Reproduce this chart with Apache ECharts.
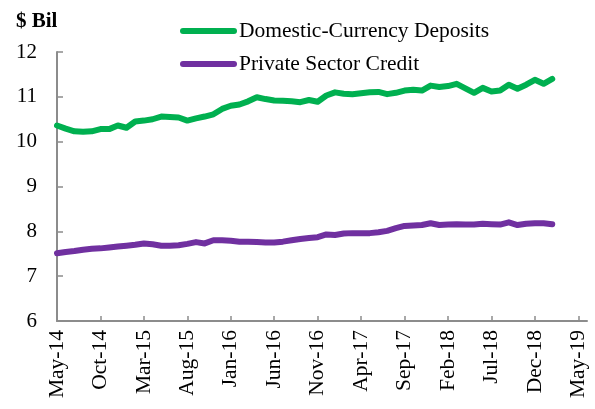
<!DOCTYPE html>
<html>
<head>
<meta charset="utf-8">
<script src="https://cdn.jsdelivr.net/npm/echarts@6/dist/echarts.min.js"></script>
<style>
  html, body { margin: 0; padding: 0; background: #fff; }
  #chart { width: 595px; height: 409px; }
</style>
</head>
<body>
<div id="chart"></div>
<script>
// Monthly axis: May-14 through Jun-19
const monthNames = ['Jan','Feb','Mar','Apr','May','Jun','Jul','Aug','Sep','Oct','Nov','Dec'];
const startYear = 2014, startMonth = 4, monthCount = 62;
const months = [];
for (let i = 0; i < monthCount; i++) {
  const m = (startMonth + i) % 12;
  const y = startYear + Math.floor((startMonth + i) / 12);
  months.push(monthNames[m] + '-' + String(y).slice(2));
}

// $ billions, May-14 onward
const depositsDomestic = [
  10.36, 10.29, 10.23, 10.22, 10.23, 10.28, 10.28, 10.36, 10.31, 10.45,
  10.47, 10.50, 10.56, 10.55, 10.54, 10.47, 10.52, 10.56, 10.61, 10.73,
  10.80, 10.83, 10.90, 10.99, 10.95, 10.92, 10.91, 10.90, 10.88, 10.93,
  10.89, 11.03, 11.10, 11.07, 11.06, 11.08, 11.10, 11.11, 11.06, 11.09,
  11.14, 11.16, 11.14, 11.25, 11.22, 11.24, 11.29, 11.19, 11.09, 11.20,
  11.12, 11.14, 11.27, 11.18, 11.27, 11.38, 11.29, 11.40
];
const creditPrivate = [
  7.51, 7.54, 7.56, 7.59, 7.61, 7.62, 7.64, 7.66, 7.68, 7.70,
  7.73, 7.71, 7.68, 7.68, 7.69, 7.72, 7.76, 7.73, 7.80, 7.80,
  7.79, 7.77, 7.77, 7.76, 7.75, 7.75, 7.77, 7.80, 7.83, 7.85,
  7.87, 7.93, 7.92, 7.95, 7.96, 7.96, 7.96, 7.98, 8.01, 8.07,
  8.12, 8.13, 8.14, 8.18, 8.14, 8.15, 8.16, 8.15, 8.15, 8.17,
  8.16, 8.15, 8.20, 8.14, 8.17, 8.18, 8.18, 8.16
];

const FONT = '"Liberation Serif", "Times New Roman", serif';
const AXIS_GREY = '#8c8c8c';

const chart = echarts.init(document.getElementById('chart'), null, { renderer: 'canvas' });
chart.setOption({
  animation: false,
  backgroundColor: '#ffffff',
  title: {
    text: '$ Bil',
    left: 11,
    top: 6,
    textStyle: { fontFamily: FONT, fontWeight: 'bold', fontSize: 21, color: '#000' }
  },
  legend: {
    orient: 'vertical',
    left: 180,
    top: 20,
    padding: 0,
    itemWidth: 57,
    itemHeight: 6,
    itemGap: 11,
    icon: 'path://M3,0 H54 A3,3 0 0 1 54,6 H3 A3,3 0 0 1 3,0 Z',
    textStyle: { fontFamily: FONT, fontSize: 21.5, color: '#000', padding: [0, 0, 0, -3] },
    data: ['Domestic-Currency Deposits', 'Private Sector Credit']
  },
  grid: { left: 57, right: 8, top: 52, bottom: 88, containLabel: false },
  xAxis: {
    type: 'category',
    data: months,
    boundaryGap: false,
    axisLine: { lineStyle: { color: AXIS_GREY, width: 2 } },
    axisTick: { inside: true, length: 5, interval: 4, lineStyle: { color: AXIS_GREY, width: 1.5 } },
    axisLabel: {
      interval: 4,
      rotate: 90,
      margin: 9,
      fontFamily: FONT,
      fontSize: 21.5,
      color: '#000'
    },
    splitLine: { show: false }
  },
  yAxis: {
    type: 'value',
    min: 6,
    max: 12,
    interval: 1,
    axisLine: { show: true, lineStyle: { color: AXIS_GREY, width: 2 } },
    axisTick: { show: true, inside: true, length: 6, lineStyle: { color: AXIS_GREY, width: 1.5 } },
    axisLabel: { margin: 20, fontFamily: FONT, fontSize: 21, color: '#000' },
    splitLine: { show: false }
  },
  series: [
    {
      name: 'Domestic-Currency Deposits',
      type: 'line',
      data: depositsDomestic,
      showSymbol: false,
      symbol: 'none',
      color: '#00b050',
      lineStyle: { width: 6, color: '#00b050', cap: 'round', join: 'round' }
    },
    {
      name: 'Private Sector Credit',
      type: 'line',
      data: creditPrivate,
      showSymbol: false,
      symbol: 'none',
      color: '#7030a0',
      lineStyle: { width: 6, color: '#7030a0', cap: 'round', join: 'round' }
    }
  ]
});
</script>
</body>
</html>
